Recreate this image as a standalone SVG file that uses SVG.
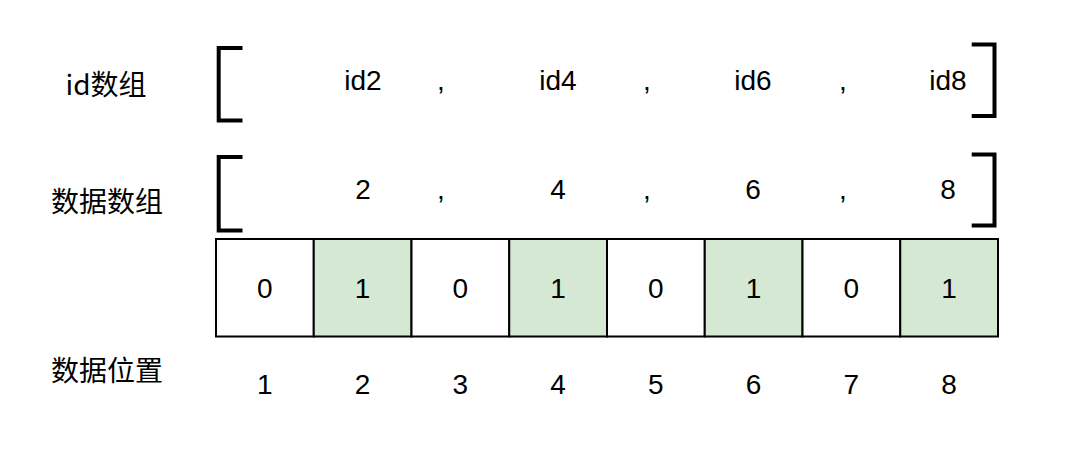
<svg xmlns="http://www.w3.org/2000/svg" width="1080" height="455" viewBox="0 0 1080 455">
<style>
.t{font-family:"Liberation Sans","Noto Sans CJK SC",sans-serif;font-size:28px;fill:#000;text-anchor:middle}
.c{font-family:"Noto Sans CJK SC","Liberation Sans",sans-serif;font-size:28px;fill:#000;text-anchor:middle}
.br{fill:none;stroke:#000;stroke-width:4;stroke-linejoin:miter}
.cell{stroke:#000;stroke-width:2}
.w{fill:#fff}
.g{fill:#d5e8d4}
</style>
<rect width="1080" height="455" fill="#fff"/>
<g id="labels">
<text class="c" x="106" y="94.5">id数组</text>
<text class="c" x="107" y="211.5">数据数组</text>
<text class="c" x="107" y="380.5">数据位置</text>
</g>
<g id="id-array">
<path class="br" d="M242.5,48 H218.7 V120.5 H242.5"/>
<path class="br" d="M971.7,44.5 H994.5 V116 H971.7"/>
<text class="t" x="363" y="89.5">id2</text>
<text class="t" x="441" y="89.5">,</text>
<text class="t" x="558" y="89.5">id4</text>
<text class="t" x="647" y="89.5">,</text>
<text class="t" x="753" y="89.5">id6</text>
<text class="t" x="843" y="89.5">,</text>
<text class="t" x="948" y="89.5">id8</text>
</g>
<g id="data-array">
<path class="br" d="M242.5,157 H218.7 V230.5 H242.5"/>
<path class="br" d="M971.7,154.5 H994.5 V225.5 H971.7"/>
<text class="t" x="363" y="198.5">2</text>
<text class="t" x="441" y="198.5">,</text>
<text class="t" x="558" y="198.5">4</text>
<text class="t" x="647" y="198.5">,</text>
<text class="t" x="753" y="198.5">6</text>
<text class="t" x="843" y="198.5">,</text>
<text class="t" x="948" y="198.5">8</text>
</g>
<g id="bitmap">
<rect class="cell w" x="216" y="239" width="97.75" height="97.5"/>
<rect class="cell g" x="313.75" y="239" width="97.75" height="97.5"/>
<rect class="cell w" x="411.5" y="239" width="97.75" height="97.5"/>
<rect class="cell g" x="509.25" y="239" width="97.75" height="97.5"/>
<rect class="cell w" x="607" y="239" width="97.75" height="97.5"/>
<rect class="cell g" x="704.75" y="239" width="97.75" height="97.5"/>
<rect class="cell w" x="802.5" y="239" width="97.75" height="97.5"/>
<rect class="cell g" x="900.25" y="239" width="97.75" height="97.5"/>
<text class="t" x="264.9" y="297.5">0</text>
<text class="t" x="362.6" y="297.5">1</text>
<text class="t" x="460.4" y="297.5">0</text>
<text class="t" x="558.1" y="297.5">1</text>
<text class="t" x="655.9" y="297.5">0</text>
<text class="t" x="753.6" y="297.5">1</text>
<text class="t" x="851.4" y="297.5">0</text>
<text class="t" x="949.1" y="297.5">1</text>
</g>
<g id="positions">
<text class="t" x="264.9" y="394">1</text>
<text class="t" x="362.6" y="394">2</text>
<text class="t" x="460.4" y="394">3</text>
<text class="t" x="558.1" y="394">4</text>
<text class="t" x="655.9" y="394">5</text>
<text class="t" x="753.6" y="394">6</text>
<text class="t" x="851.4" y="394">7</text>
<text class="t" x="949.1" y="394">8</text>
</g>
<g id="connectors"></g>
</svg>
